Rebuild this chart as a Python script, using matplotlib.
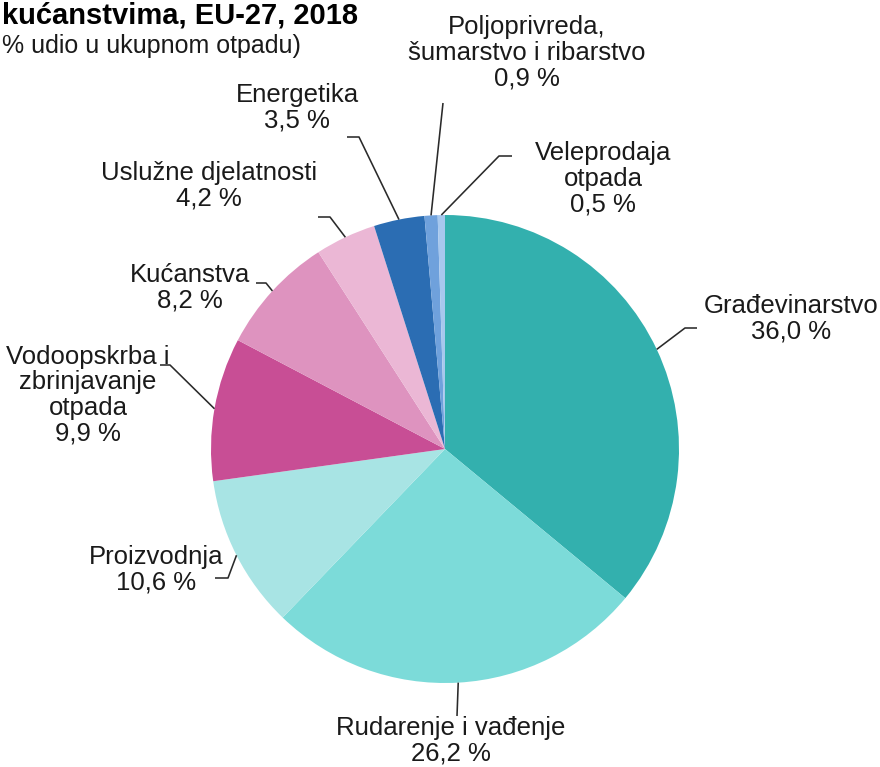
import matplotlib
matplotlib.use("Agg")
import matplotlib.pyplot as plt
import numpy as np

plt.rcParams['font.family'] = ['Liberation Sans', 'DejaVu Sans']

categories = ["Građevinarstvo", "Rudarenje i vađenje", "Proizvodnja",
              "Vodoopskrba i\nzbrinjavanje\notpada", "Kućanstva",
              "Uslužne djelatnosti", "Energetika",
              "Poljoprivreda,\nšumarstvo i ribarstvo", "Veleprodaja\notpada"]
values = [36.0, 26.2, 10.6, 9.9, 8.2, 4.2, 3.5, 0.9, 0.5]
colors = ["#33b0ae", "#7cdbd9", "#a8e4e4", "#c84e95", "#de93bf",
          "#ebb7d5", "#2b6db3", "#6fa1dc", "#a7c8ee"]

W, H = 880, 767
CX, CY, R = 445, 449, 234

fig = plt.figure(figsize=(W / 100, H / 100), dpi=100)
ax = fig.add_axes([0, 0, 1, 1])
ax.set_aspect('equal')
ax.axis('off')

wedges, _ = ax.pie(values, colors=colors, startangle=90, counterclock=False,
                   radius=1.0, center=(0, 0), wedgeprops=dict(linewidth=0))
ax.set_xlim(-CX / R, (W - CX) / R)
ax.set_ylim(-(H - CY) / R, CY / R)


def px(x, y):
    return ((x - CX) / R, (CY - y) / R)


# leader routing (elbow, end) in pixel coords and label centers
routes = [
    ([(685, 328), (697, 328)], (791, 319)),
    ([(457, 716)], (451, 741)),
    ([(228, 578), (215, 578)], (156, 570)),
    ([(170, 365), (160, 365)], (88, 395)),
    ([(266, 283), (256, 283)], (190, 288)),
    ([(330, 217), (318, 217)], (209, 186)),
    ([(359, 137), (347, 137)], (297, 108)),
    ([(443, 103)], (527, 53)),
    ([(499, 156), (512, 156)], (603, 179)),
]

for w, v, cat, (pts, tc) in zip(wedges, values, categories, routes):
    mid = np.deg2rad((w.theta1 + w.theta2) / 2)
    x0, y0 = np.cos(mid) * w.r, np.sin(mid) * w.r
    xs = [x0] + [px(*p)[0] for p in pts]
    ys = [y0] + [px(*p)[1] for p in pts]
    ax.plot(xs, ys, color="#2a2a2a", lw=1.15, solid_capstyle='butt')
    label = f"{cat}\n{v:.1f} %".replace(".", ",")
    tx, ty = px(*tc)
    ax.text(tx, ty, label, ha='center', va='center', fontsize=18.5,
            color="#1a1a1a", linespacing=1.08)

fig.text(358 / W, 1 - 15 / H, "kućanstvima, EU-27, 2018", ha='right', va='center',
         fontsize=21, fontweight='bold', color='black')
fig.text(2 / W, 1 - 46 / H, "% udio u ukupnom otpadu)", ha='left', va='center',
         fontsize=18, color='#1a1a1a')

fig.savefig("out.png", dpi=100)
